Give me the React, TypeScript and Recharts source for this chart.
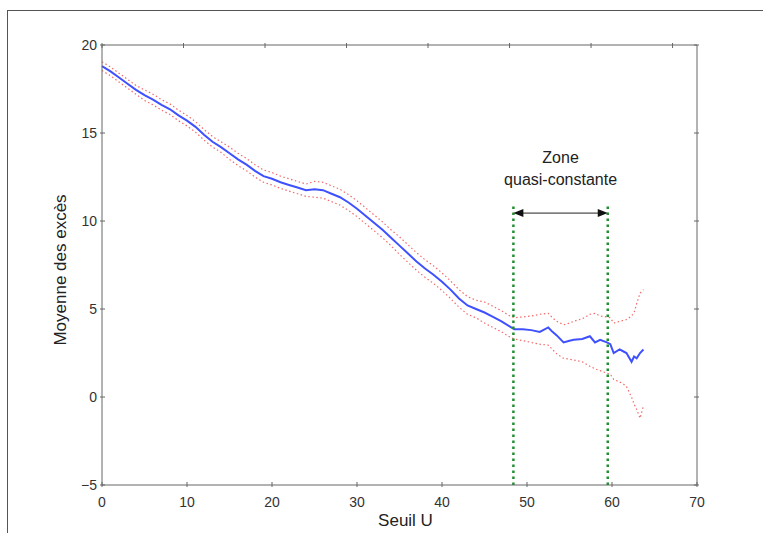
import { LineChart, Line, XAxis, YAxis, ReferenceLine } from 'recharts';

// seuil U (abscisse) et moyenne des excès, avec les bornes de l'intervalle
const seuil = [
  0, 1, 2, 3, 4, 5, 6, 7, 8, 9, 10, 11, 12, 13, 14, 15, 16, 17, 18, 19, 20,
  21, 22, 23, 24, 25, 26, 27, 28, 29, 30, 31, 32, 33, 34, 35, 36, 37, 38, 39,
  40, 41, 42, 43, 44, 45, 46, 47, 48, 48.5, 49.5, 50.5, 51.5, 52.5, 53, 53.5,
  54.3, 55, 55.5, 56.5, 57.4, 58, 58.6, 59.4, 59.8, 60.2, 60.9, 61.3, 61.7,
  62.3, 62.6, 62.9, 63.3, 63.7,
];
const moyenne = [
  18.8, 18.5, 18.15, 17.8, 17.45, 17.15, 16.9, 16.6, 16.35, 16.0, 15.7, 15.35,
  14.9, 14.5, 14.2, 13.85, 13.5, 13.2, 12.85, 12.55, 12.4, 12.2, 12.05, 11.9,
  11.75, 11.8, 11.75, 11.55, 11.35, 11.05, 10.7, 10.3, 9.9, 9.5, 9.05, 8.6,
  8.15, 7.7, 7.3, 6.95, 6.55, 6.1, 5.6, 5.2, 5.0, 4.8, 4.55, 4.3, 4.0, 3.85,
  3.85, 3.8, 3.7, 3.95, 3.7, 3.5, 3.1, 3.2, 3.25, 3.3, 3.45, 3.1, 3.25, 3.1,
  3.0, 2.5, 2.7, 2.6, 2.5, 2.0, 2.3, 2.2, 2.5, 2.7,
];
const borneHaute = [
  19.05, 18.75, 18.4, 18.05, 17.7, 17.45, 17.2, 16.9, 16.65, 16.3, 16.0, 15.65,
  15.2, 14.8, 14.5, 14.2, 13.85, 13.55, 13.2, 12.9, 12.75, 12.55, 12.4, 12.25,
  12.1, 12.25, 12.2, 12.0, 11.8, 11.5, 11.15, 10.75, 10.35, 9.95, 9.5, 9.1,
  8.65, 8.2, 7.8, 7.45, 7.05, 6.6, 6.1, 5.7, 5.5, 5.4, 5.15, 4.9, 4.6, 4.5,
  4.55, 4.6, 4.7, 4.75, 4.5, 4.3, 4.1, 4.2, 4.3, 4.45, 4.7, 4.75, 4.6, 4.55,
  4.5, 4.2, 4.3, 4.35, 4.4, 4.6, 4.8, 5.3, 5.9, 6.1,
];
const borneBasse = [
  18.55, 18.25, 17.9, 17.55, 17.2, 16.85, 16.6, 16.3, 16.05, 15.7, 15.4,
  15.05, 14.6, 14.2, 13.9, 13.5, 13.15, 12.85, 12.5, 12.2, 12.05, 11.85, 11.7,
  11.55, 11.4, 11.35, 11.3, 11.1, 10.9, 10.6, 10.25, 9.85, 9.45, 9.05, 8.6,
  8.1, 7.65, 7.2, 6.8, 6.45, 6.05, 5.6, 5.1, 4.7, 4.5, 4.2, 3.95, 3.7, 3.4,
  3.3, 3.2, 3.1, 3.0, 2.95, 2.7, 2.45, 2.2, 2.15, 2.1, 2.0, 1.75, 1.6, 1.5,
  1.35, 1.3, 1.0, 0.85, 0.75, 0.6, 0.0, -0.4, -0.7, -1.2, -0.5,
];

const xTicks = [0, 10, 20, 30, 40, 50, 60, 70];
const yTicks = [-5, 0, 5, 10, 15, 20];

// zone quasi-constante
const zoneDebut = 48.4;
const zoneFin = 59.5;
const zoneHaut = 11;
const flecheY = 10.45;

const data = seuil.map((u, i) => ({
  u,
  moyenne: moyenne[i],
  haute: borneHaute[i],
  basse: borneBasse[i],
}));

const AXIS = '#666';
const FONT = '"Liberation Sans", Arial, sans-serif';

const fmt = (v: number) => (v < 0 ? `\u2212${Math.abs(v)}` : `${v}`);

const BottomTick = ({ x, y, payload }: any) => (
  <g>
    <line x1={x} y1={y} x2={x} y2={y - 5} stroke={AXIS} />
    <text x={x} y={y + 20} textAnchor="middle" fontSize={14} fill="#333" fontFamily={FONT}>
      {fmt(payload.value)}
    </text>
  </g>
);

const TopTick = ({ x, y }: any) => (
  <line x1={x} y1={y} x2={x} y2={y + 5} stroke={AXIS} />
);

const LeftTick = ({ x, y, payload }: any) => (
  <g>
    <line x1={x} y1={y} x2={x + 5} y2={y} stroke={AXIS} />
    <text x={x - 3} y={y + 5} textAnchor="end" fontSize={14} fill="#333" fontFamily={FONT}>
      {fmt(payload.value)}
    </text>
  </g>
);

const RightTick = ({ x, y }: any) => (
  <line x1={x} y1={y} x2={x - 5} y2={y} stroke={AXIS} />
);

const Fleche = (props: any) => {
  const { x1, y1, x2 } = props;
  const cx = (x1 + x2) / 2;
  return (
    <g>
      <line x1={x1 + 8} y1={y1} x2={x2 - 8} y2={y1} stroke="#222" strokeWidth={1} />
      <path d={`M${x1},${y1} l10,-4 l0,8 z`} fill="#111" />
      <path d={`M${x2},${y1} l-10,-4 l0,8 z`} fill="#111" />
      <text x={cx} y={y1 - 50} textAnchor="middle" fontSize={16} fill="#222" fontFamily={FONT}>
        Zone
      </text>
      <text x={cx} y={y1 - 28} textAnchor="middle" fontSize={16} fill="#222" fontFamily={FONT}>
        quasi-constante
      </text>
    </g>
  );
};

export default function App() {
  return (
    <div style={{ position: 'fixed', left: 0, top: 0, width: 763, height: 533, background: '#fff' }}>
      <div
        style={{
          position: 'absolute',
          left: 7,
          top: 10,
          right: 0,
          bottom: 0,
          borderTop: '1px solid #555',
          borderLeft: '1px solid #555',
        }}
      />
      <div style={{ position: 'absolute', left: 0, top: 0 }}>
        <LineChart width={763} height={533} data={data} margin={{ top: 44, right: 65, bottom: 0, left: 0 }}>
          <XAxis
            dataKey="u"
            type="number"
            domain={[0, 70]}
            ticks={xTicks}
            tickSize={0}
            tick={<BottomTick />}
            axisLine={{ stroke: AXIS }}
            height={48}
            label={{ value: 'Seuil U', position: 'insideBottom', offset: 7, dx: 6, fontSize: 17, fill: '#222', fontFamily: FONT }}
          />
          <XAxis
            xAxisId="top"
            orientation="top"
            type="number"
            domain={[0, 70]}
            ticks={xTicks}
            tickSize={0}
            tick={<TopTick />}
            axisLine={{ stroke: AXIS }}
            height={1}
            allowDataOverflow
          />
          <YAxis
            type="number"
            domain={[-5, 20]}
            ticks={yTicks}
            tickSize={0}
            tick={<LeftTick />}
            axisLine={{ stroke: AXIS }}
            width={102}
            label={{
              value: 'Moyenne des excès',
              angle: -90,
              position: 'insideLeft',
              offset: 60,
              dy: 5,
              style: { textAnchor: 'middle' },
              fontSize: 17,
              fill: '#222',
              fontFamily: FONT,
            }}
          />
          <YAxis
            yAxisId="right"
            orientation="right"
            type="number"
            domain={[-5, 20]}
            ticks={yTicks}
            tickSize={0}
            tick={<RightTick />}
            axisLine={{ stroke: AXIS }}
            width={1}
            allowDataOverflow
          />
          <Line dataKey="haute" stroke="#f26a6a" strokeWidth={1.2} strokeDasharray="1.5 2.5" dot={false} isAnimationActive={false} />
          <Line dataKey="basse" stroke="#f26a6a" strokeWidth={1.2} strokeDasharray="1.5 2.5" dot={false} isAnimationActive={false} />
          <Line dataKey="moyenne" stroke="#3f51ff" strokeWidth={2} dot={false} isAnimationActive={false} />
          <ReferenceLine
            segment={[{ x: zoneDebut, y: -5 }, { x: zoneDebut, y: zoneHaut }]}
            stroke="#1f8f2f"
            strokeWidth={2.5}
            strokeDasharray="2.5 3.5"
          />
          <ReferenceLine
            segment={[{ x: zoneFin, y: -5 }, { x: zoneFin, y: zoneHaut }]}
            stroke="#1f8f2f"
            strokeWidth={2.5}
            strokeDasharray="2.5 3.5"
          />
          <ReferenceLine
            segment={[{ x: zoneDebut, y: flecheY }, { x: zoneFin, y: flecheY }]}
            shape={Fleche}
          />
        </LineChart>
      </div>
    </div>
  );
}
